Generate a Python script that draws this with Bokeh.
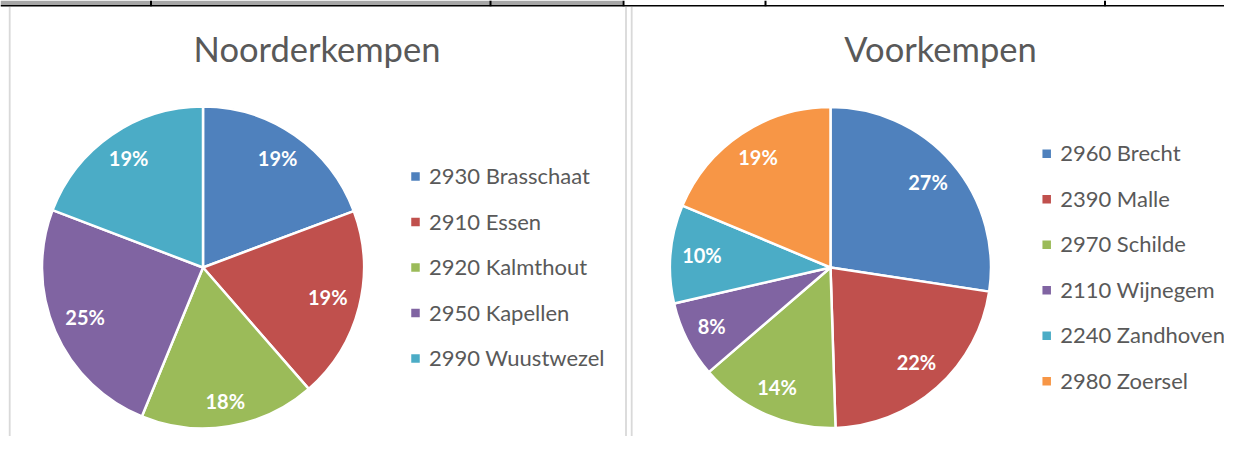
import math
from bokeh.plotting import figure
from bokeh.models import Range1d, ColumnDataSource
from bokeh.core.properties import value
from bokeh.embed import file_html
from bokeh.resources import INLINE

# ---- data ----
titles = ["Noorderkempen", "Voorkempen"]
noord_names = ["2930 Brasschaat", "2910 Essen", "2920 Kalmthout", "2950 Kapellen", "2990 Wuustwezel"]
noord_values = [19.3, 19.3, 17.6, 24.6, 19.2]
voor_names = ["2960 Brecht", "2390 Malle", "2970 Schilde", "2110 Wijnegem", "2240 Zandhoven", "2980 Zoersel"]
voor_values = [27.4, 22.1, 14.2, 7.7, 9.9, 18.7]

palette = ["#4F81BD", "#C0504D", "#9BBB59", "#8064A2", "#4BACC6", "#F79646"]
FONT = "Lato"
GREY = "#595959"

W, H = 1224, 436
p = figure(width=W, height=H, x_range=Range1d(0, W), y_range=Range1d(-H, 0),
           output_backend="svg", toolbar_location=None, min_border=0,
           x_axis_type=None, y_axis_type=None)
p.grid.visible = False
p.outline_line_color = None
p.background_fill_color = "white"

# top strip (worksheet cells behind the charts)
p.quad(left=[0], right=[622], top=[0], bottom=[-4.8], fill_color="#A6A6A6", line_color=None)
p.segment(x0=[0], y0=[-5.3], x1=[1240], y1=[-5.3], line_color="#000000", line_width=1.4)
p.segment(x0=[150.5, 490, 623, 765, 1104.5], y0=[0] * 5,
          x1=[150.5, 490, 623, 765, 1104.5], y1=[-5.8] * 5,
          line_color="#000000", line_width=2)
# chart area borders
p.segment(x0=[9.2, 625.5, 631.2], y0=[-6.5] * 3, x1=[9.2, 625.5, 631.2], y1=[-460] * 3,
          line_color="#D9D9D9", line_width=1.8)


def draw_pie(names, values, cx, cy, r, title, title_x, leg_x):
    total = float(sum(values))
    starts, ends, cum = [], [], 0.0
    for v in values:
        starts.append(math.pi / 2 - 2 * math.pi * cum)
        cum += v / total
        ends.append(math.pi / 2 - 2 * math.pi * cum)
    colors = palette[:len(values)]
    src = ColumnDataSource(dict(start=starts, end=ends, color=colors))
    p.wedge(x=cx, y=-cy, radius=r, start_angle="start", end_angle="end", direction="clock",
            fill_color="color", line_color="white", line_width=2.5, source=src)

    # data labels (inside end)
    fs = 20
    lx, ly, lt = [], [], []
    R = r - 11
    for s, e, v in zip(starts, ends, values):
        lab = "%d%%" % round(100 * v / total)
        m = (s + e) / 2
        c, sn = abs(math.cos(m)), abs(math.sin(m))
        w = 0.5 * fs * (0.58 * (len(lab) - 1) + 0.8)
        h = 9
        b = w * c + h * sn
        d = -b + math.sqrt(b * b - (w * w + h * h - R * R))
        lx.append(cx + d * math.cos(m))
        ly.append(-cy + d * math.sin(m) + 2)
        lt.append(lab)
    p.text(x=lx, y=ly, text=lt, text_color="white", text_font=value(FONT),
           text_font_style="bold", text_font_size="%dpx" % fs,
           text_align="center", text_baseline="alphabetic")

    # title
    p.text(x=[title_x], y=[-47.6], text=[title], text_color=GREY, text_font=value(FONT),
           text_font_size="34.5px", text_align="center", text_baseline="alphabetic")

    # legend
    n = len(names)
    ys = [cy + (i - (n - 1) / 2) * 45.5 for i in range(n)]
    p.scatter(x=[leg_x] * n, y=[-y for y in ys], marker="square", size=8.5,
              fill_color=colors, line_color=None)
    p.text(x=[leg_x + 13.5] * n, y=[-y + 1 for y in ys], text=names, text_color=GREY,
           text_font=value(FONT), text_font_size="22px", text_align="left",
           text_baseline="alphabetic")


draw_pie(noord_names, noord_values, 202.5, 267, 161, titles[0], 316.5, 415)
draw_pie(voor_names, voor_values, 830, 267, 160.5, titles[1], 940, 1046.2)

open("out.html", "w").write(file_html(p, INLINE))
